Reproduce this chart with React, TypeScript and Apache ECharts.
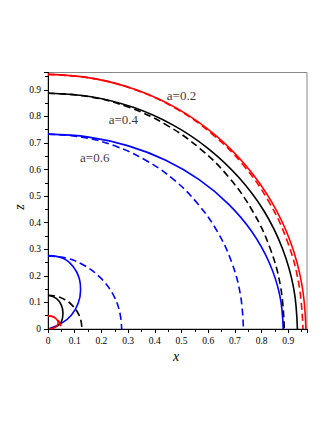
import React, { useEffect, useRef } from "react";
import * as echarts from "echarts";

// Outer horizons (solid) and circles (dashed)
const redSolidX = [0, 0.168, 0.330, 0.483, 0.621, 0.740, 0.837, 0.908, 0.951, 0.966];
const redSolidZ = [0.958, 0.943, 0.900, 0.830, 0.734, 0.616, 0.479, 0.328, 0.166, 0];
const redDashX = [0, 0.166, 0.327, 0.478, 0.614, 0.732, 0.827, 0.897, 0.940, 0.955];
const redDashZ = [0.958, 0.943, 0.900, 0.830, 0.734, 0.616, 0.479, 0.328, 0.166, 0];

const blackSolidX = [0, 0.162, 0.319, 0.467, 0.600, 0.715, 0.809, 0.878, 0.920, 0.934];
const blackSolidZ = [0.887, 0.874, 0.834, 0.768, 0.679, 0.570, 0.444, 0.303, 0.154, 0];
const blackDashX = [0, 0.154, 0.303, 0.443, 0.569, 0.678, 0.766, 0.832, 0.872, 0.885];
const blackDashZ = [0.887, 0.874, 0.834, 0.768, 0.679, 0.570, 0.444, 0.303, 0.154, 0];

const blueSolidX = [0, 0.153, 0.301, 0.441, 0.566, 0.675, 0.763, 0.828, 0.868, 0.881];
const blueSolidZ = [0.733, 0.722, 0.689, 0.635, 0.562, 0.471, 0.367, 0.251, 0.127, 0];
const blueDashX = [0, 0.127, 0.250, 0.366, 0.471, 0.561, 0.634, 0.688, 0.721, 0.732];
const blueDashZ = [0.733, 0.722, 0.689, 0.635, 0.562, 0.471, 0.367, 0.251, 0.127, 0];

// Inner horizons (small curves near the origin)
const blueInSolidX = [0, 0.056, 0.094, 0.117, 0.122, 0.113, 0.088, 0.050, 0.006];
const blueInSolidZ = [0.276, 0.266, 0.235, 0.191, 0.147, 0.097, 0.053, 0.021, 0.002];
const blueInDashX = [0, 0.071, 0.138, 0.195, 0.239, 0.267, 0.276];
const blueInDashZ = [0.275, 0.266, 0.238, 0.194, 0.138, 0.071, 0];

const blackInSolidX = [0, 0.031, 0.050, 0.056, 0.050, 0.031, 0.006];
const blackInSolidZ = [0.127, 0.115, 0.090, 0.059, 0.027, 0.009, 0.001];
const blackInDashX = [0, 0.033, 0.064, 0.090, 0.110, 0.123, 0.127];
const blackInDashZ = [0.127, 0.123, 0.110, 0.090, 0.064, 0.033, 0];

const redInSolidX = [0, 0.019, 0.032, 0.038, 0.034, 0.022, 0.006];
const redInSolidZ = [0.05, 0.046, 0.037, 0.024, 0.012, 0.004, 0.0];
const redInDashX = [0, 0.013, 0.025, 0.035, 0.043, 0.048, 0.05];
const redInDashZ = [0.05, 0.048, 0.043, 0.035, 0.025, 0.013, 0];

// Annotations
const annoText = ["a=0.2", "a=0.4", "a=0.6"];
const annoX = [0.50, 0.282, 0.175];
const annoZ = [0.878, 0.790, 0.647];

const zip = (xs: number[], zs: number[]) => xs.map((x, i) => [x, zs[i]]);

const SERIF = "'Liberation Serif', 'Times New Roman', serif";

export default function App() {
  const ref = useRef<HTMLDivElement>(null);
  useEffect(() => {
    if (!ref.current) return;
    const chart = echarts.init(ref.current, undefined, { renderer: "svg" });
    const line = (xs: number[], zs: number[], color: string, dashed: boolean) => ({
      type: "line",
      data: zip(xs, zs),
      smooth: 0.4,
      showSymbol: false,
      symbol: "none",
      silent: true,
      lineStyle: {
        color,
        width: 1.6,
        type: dashed ? [7, 4] : "solid",
      },
    });
    const fmt = (v: number) => {
      const k = v * 10;
      if (Math.abs(k - Math.round(k)) > 1e-6) return "";
      return v === 0 ? "0" : (Math.round(k) / 10).toFixed(1);
    };
    const axisCommon = {
      type: "value",
      min: 0,
      interval: 0.1,
      splitLine: { show: false },
      axisLine: { show: true, lineStyle: { color: "#000", width: 1 } },
      axisTick: { show: true, inside: false, length: 4, lineStyle: { color: "#000" } },
      minorTick: { show: true, splitNumber: 2, length: 3, lineStyle: { color: "#000" } },
      axisLabel: {
        color: "#000",
        fontFamily: SERIF,
        fontSize: 9.5,
        formatter: fmt,
        showMaxLabel: false,
      },
    };
    chart.setOption({
      animation: false,
      backgroundColor: "#fff",
      grid: {
        left: 48,
        right: 25,
        top: 72.5,
        bottom: 101,
        show: true,
        borderColor: "#888",
        borderWidth: 1,
        backgroundColor: "transparent",
      },
      xAxis: { ...axisCommon, max: 0.97, axisLabel: { ...axisCommon.axisLabel, margin: 7 } },
      yAxis: { ...axisCommon, max: 0.965, axisLabel: { ...axisCommon.axisLabel, margin: 7 } },
      graphic: [
        {
          type: "text",
          x: 176,
          y: 356,
          style: {
            text: "x",
            font: `italic 14px ${SERIF}`,
            fill: "#000",
            textAlign: "center",
            textVerticalAlign: "middle",
          },
        },
        {
          type: "text",
          x: 19.5,
          y: 207,
          rotation: Math.PI / 2,
          style: {
            text: "z",
            font: `italic 14px ${SERIF}`,
            fill: "#000",
            textAlign: "center",
            textVerticalAlign: "middle",
          },
        },
      ],
      series: [
        line(blueDashX, blueDashZ, "#0000ff", true),
        line(blueSolidX, blueSolidZ, "#0000ff", false),
        line(blueInDashX, blueInDashZ, "#0000ff", true),
        line(blueInSolidX, blueInSolidZ, "#0000ff", false),
        line(blackDashX, blackDashZ, "#000000", true),
        line(blackSolidX, blackSolidZ, "#000000", false),
        line(blackInDashX, blackInDashZ, "#000000", true),
        line(blackInSolidX, blackInSolidZ, "#000000", false),
        line(redDashX, redDashZ, "#ff0000", true),
        line(redSolidX, redSolidZ, "#ff0000", false),
        line(redInDashX, redInDashZ, "#ff0000", true),
        line(redInSolidX, redInSolidZ, "#ff0000", false),
        {
          type: "scatter",
          silent: true,
          symbolSize: 1,
          itemStyle: { color: "rgba(0,0,0,0)" },
          data: annoText.map((t, i) => [annoX[i], annoZ[i], t]),
          label: {
            show: true,
            position: "inside",
            formatter: (p: any) => p.data[2],
            color: "#000",
            fontFamily: SERIF,
            fontSize: 13,
          },
        },
      ],
    });
    return () => chart.dispose();
  }, []);
  return (
    <div
      ref={ref}
      style={{ position: "fixed", left: 0, top: 0, width: 332, height: 430 }}
    />
  );
}
